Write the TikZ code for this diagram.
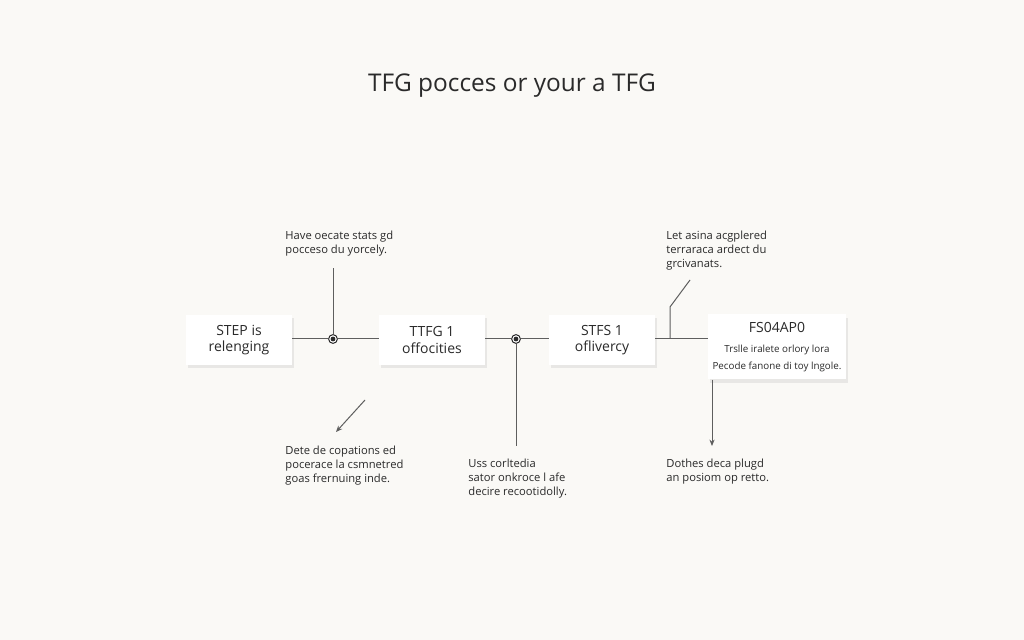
\documentclass[tikz,border=0pt]{standalone}
\usepackage{fontspec}
\setmainfont{Open Sans}
\usetikzlibrary{positioning,shadows,arrows.meta}

\definecolor{paper}{HTML}{FAF9F6}
\definecolor{ink}{HTML}{2A2A2A}
\definecolor{wire}{HTML}{5E5E5E}

\tikzset{
  stepbox/.style={fill=white, text=ink, align=center, inner sep=2pt,
    minimum width=53pt, minimum height=25pt,
    font=\fontsize{7}{8.2}\selectfont,
    drop shadow={shadow xshift=1.2pt, shadow yshift=-1.6pt, opacity=0.14}},
  note/.style={text=ink, align=left, inner sep=0pt,
    font=\fontsize{5.6}{7}\selectfont},
  wire/.style={draw=wire, line width=0.5pt},
  joint/.style={circle, draw=ink, fill=white, line width=0.5pt, inner sep=0pt,
    minimum size=4.4pt,
    path picture={\fill[ink] (path picture bounding box.center) circle (1.2pt);}},
  tip/.style={-{Stealth[length=3.2pt,width=2.6pt]}}
}

\begin{document}
\begin{tikzpicture}[x=0.5pt, y=-0.5pt]
        \fill[paper] (0,0) rectangle (1024,640);
        \useasboundingbox (0,0) rectangle (1024,640);

        \node[text=ink, font=\fontsize{12.2}{15}\selectfont] (title) at (512,86) {TFG pocces or your a TFG};

        % the four steps
        \node[stepbox] (relenging) at (239,340) {STEP is\\relenging};
        \node[stepbox] (offocities) at (432,340) {TTFG 1\\offocities};
        \node[stepbox] (oflivercy) at (602,340) {STFS 1\\oflivercy};
        \node[stepbox, minimum width=69pt, minimum height=32.5pt] (fsap) at (777,347)
          {FS04AP0\\[2pt]{\fontsize{4.9}{6}\selectfont Trslle iralete orlory lora}\\{\fontsize{4.9}{6}\selectfont Pecode fanone di toy lngole.}};

        % notes
        \node[note, anchor=north west] (havenote) at (285,231) {Have oecate stats gd\\pocceso du yorcely.};
        \node[note, anchor=north west] (letnote) at (666,231) {Let asina acgplered\\terraraca ardect du\\grcivanats.};
        \node[note, anchor=north west] (detenote) at (285,446) {Dete de copations ed\\pocerace la csmnetred\\goas frernuing inde.};
        \node[note, anchor=north west] (ussnote) at (468,459) {Uss corltedia\\sator onkroce l afe\\decire recootidolly.};
        \node[note, anchor=north west] (dothnote) at (666,459) {Dothes deca plugd\\an posiom op retto.};

        \node[joint] (dotA) at (333,339) {};
        \node[joint] (dotB) at (516,339) {};
        \coordinate (upA) at (333,268);
        \coordinate (downB) at (516,446);
        \coordinate (bendC) at (670,339);
        \coordinate (kneeC) at (670,307);
        \coordinate (endC) at (690,280);
        \coordinate (arrD) at (365,400);
        \coordinate (headD) at (336,432);
        \coordinate (topE) at (712,380);
        \coordinate (headE) at (712,446);

        \draw[wire] (relenging.east |- dotA) -- (dotA);
        \draw[wire] (dotA) -- (offocities.west |- dotA);
        \draw[wire] (dotA) -- (upA);
        \draw[wire] (offocities.east |- dotB) -- (dotB);
        \draw[wire] (dotB) -- (oflivercy.west |- dotB);
        \draw[wire] (dotB) -- (downB);
        \draw[wire] (oflivercy.east |- bendC) -- (fsap.west |- bendC);
        \draw[wire] (bendC) -- (kneeC) -- (endC);
        \draw[wire, tip] (arrD) -- (headD);
        \draw[wire, tip] (topE) -- (headE);

    \end{tikzpicture}
\end{document}
